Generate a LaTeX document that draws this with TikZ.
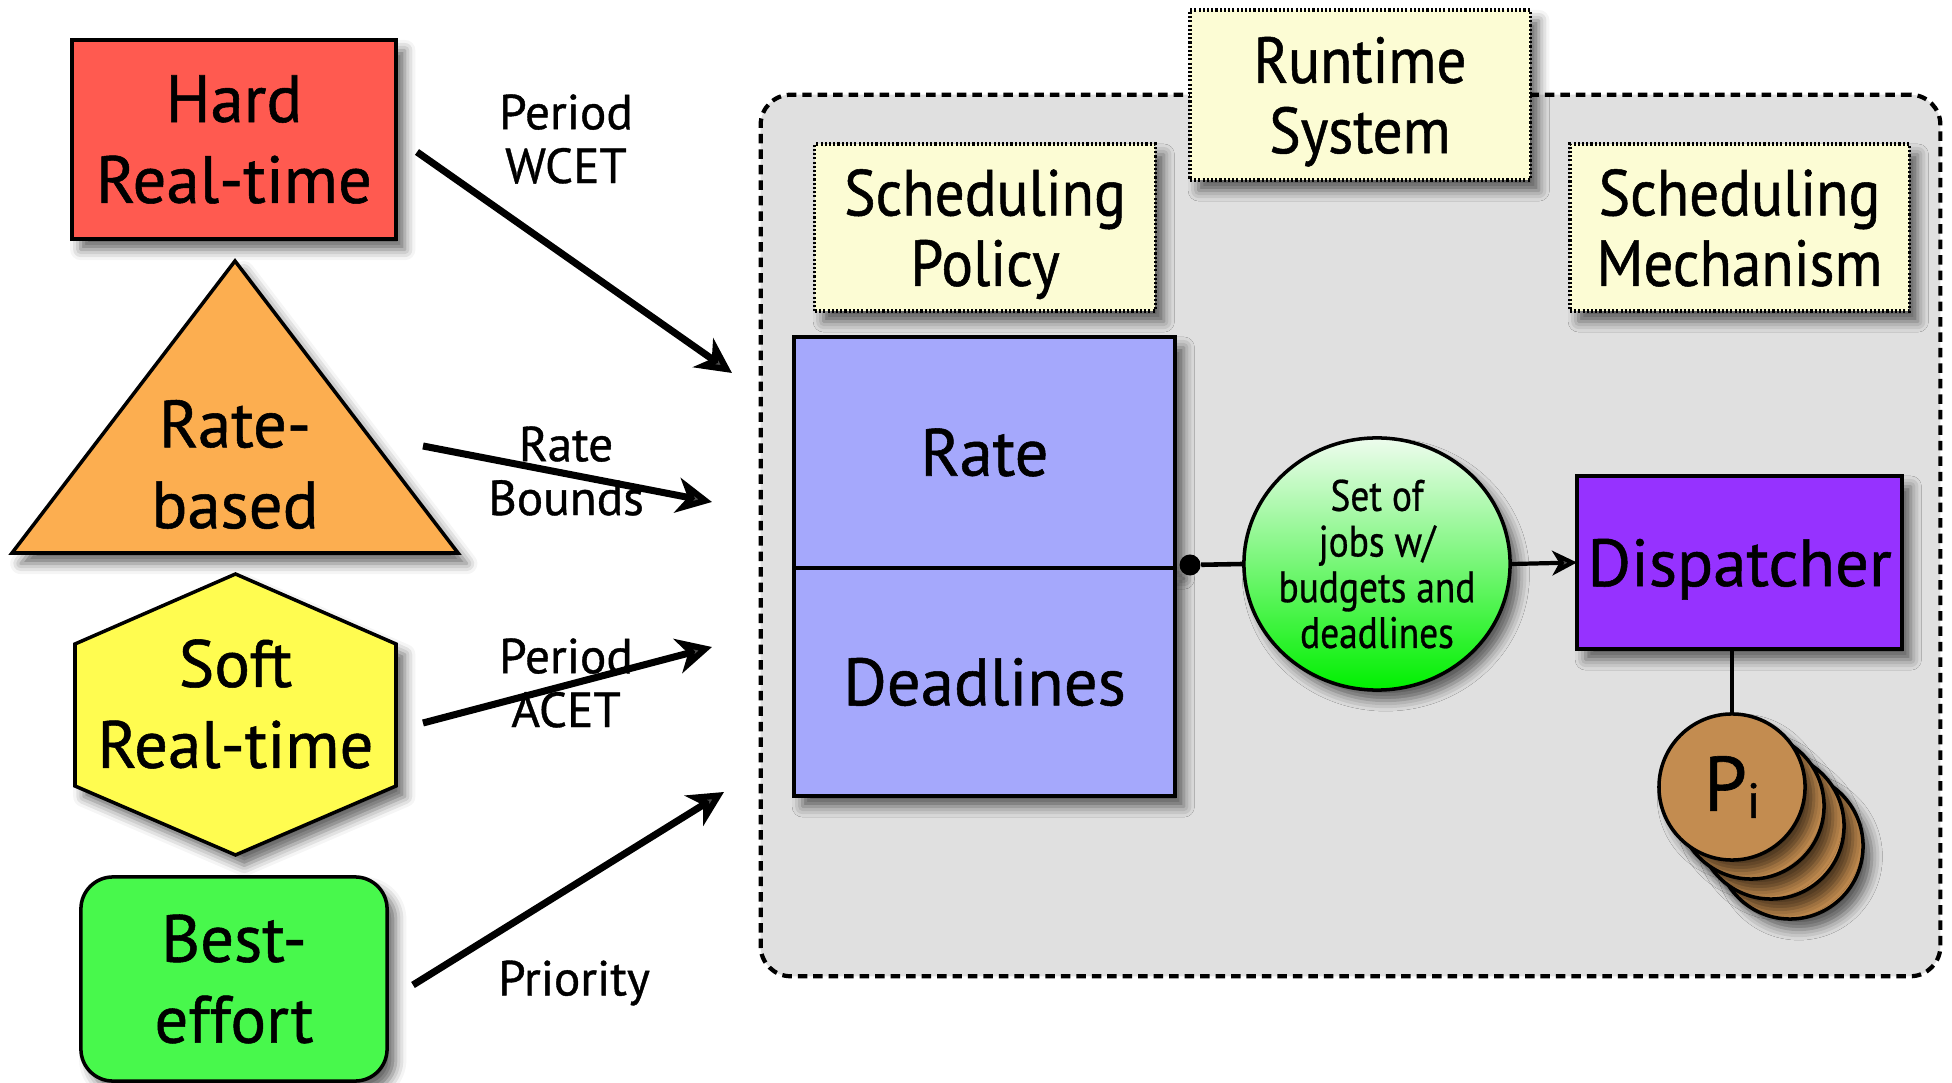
\documentclass[tikz,border=0pt]{standalone}
\usepackage{fontspec}
\setmainfont{PT Sans}[FakeBold=0.8]
\newfontfamily\notefont{PT Sans}[FakeStretch=0.91, FakeBold=0.8]
\newfontfamily\jobfont{PT Sans}[FakeStretch=0.85, FakeBold=0.6]
\usetikzlibrary{arrows.meta,shapes.geometric,shadows.blur}

\definecolor{hardred}{RGB}{255,90,80}
\definecolor{rateorange}{RGB}{252,174,80}
\definecolor{softyellow}{RGB}{255,252,80}
\definecolor{bestgreen}{RGB}{72,248,76}
\definecolor{polblue}{RGB}{165,168,252}
\definecolor{disppurple}{RGB}{150,50,255}
\definecolor{notecream}{RGB}{252,252,212}
\definecolor{rtgray}{RGB}{224,224,224}
\definecolor{procbrown}{RGB}{195,140,80}
\definecolor{jobgreen}{RGB}{0,240,0}
\definecolor{jobpale}{RGB}{238,252,238}

\tikzset{
  castshadow/.style={blur shadow={shadow xshift=2.5pt, shadow yshift=-3pt,
      shadow blur radius=3pt, shadow opacity=60}},
  bigtxt/.style={font=\fontsize{19}{23}\selectfont, align=center},
  notetxt/.style={font=\notefont\fontsize{18.5}{20}\selectfont, align=center},
  smalltxt/.style={font=\fontsize{14}{15.3}\selectfont, align=center},
  shapebox/.style={draw, line width=1pt, inner sep=0pt, outer sep=0pt, castshadow},
  notebox/.style={draw, line width=0.9pt, dash pattern=on 0.6pt off 0.6pt,
      fill=notecream, inner sep=0pt, castshadow, notetxt, text depth=0pt},
  bigarrow/.style={line width=2pt, -{Stealth[length=10pt, width=10pt, inset=3pt]}},
  proc/.style={circle, draw, line width=1pt, fill=procbrown, minimum size=1.46cm,
      inner sep=0pt, castshadow}
}

\begin{document}
\begin{tikzpicture}[x=0.01cm, y=-0.01cm]
  \useasboundingbox (0,0) rectangle (1952,1083);

  % runtime system container
  \node[draw, line width=1.2pt, dash pattern=on 2.7pt off 1.7pt, fill=rtgray,
        rounded corners=0.3cm, minimum width=11.79cm, minimum height=8.81cm,
        inner sep=0pt] (rt) at (1350.5,535.5) {};

  % task classes on the left
  \node[shapebox, fill=hardred, minimum width=3.24cm, minimum height=1.99cm, bigtxt]
        (hard) at (234,139.5) {Hard\\Real-time};
  \path[draw, line width=1pt, fill=rateorange, castshadow, line join=miter]
        (235,261) -- (458,553) -- (12,553) -- cycle;
  \node[bigtxt] (ratebased) at (235,464.5) {Rate-\\based};
  \path[draw, line width=1pt, fill=softyellow, castshadow]
        (235.5,574) -- (396,644) -- (396,786) -- (235.5,855) -- (75,786) -- (75,644) -- cycle;
  \node[bigtxt] (soft) at (235.5,704) {Soft\\Real-time};
  \node[shapebox, fill=bestgreen, rounded corners=0.32cm, minimum width=3.06cm,
        minimum height=2.04cm, bigtxt] (best) at (234,979) {Best-\\effort};

  % parameters passed to the runtime system
  \node[smalltxt] (lblhard) at (566,139) {Period\\WCET};
  \node[smalltxt] (lblrate) at (566,471) {Rate\\Bounds};
  \node[smalltxt] (lblsoft) at (566,683) {Period\\ACET};
  \node[smalltxt] (lblbest) at (574,983) {Priority};

  \coordinate (a1s) at (417,152);  \coordinate (a1e) at (732,373);
  \coordinate (a2s) at (423,446);  \coordinate (a2e) at (712,502);
  \coordinate (a3s) at (423,723);  \coordinate (a3e) at (712,647);
  \coordinate (a4s) at (413,985);  \coordinate (a4e) at (724,792);
  \draw[bigarrow] (a1s) -- (a1e);
  \draw[bigarrow] (a2s) -- (a2e);
  \draw[bigarrow] (a3s) -- (a3e);
  \draw[bigarrow] (a4s) -- (a4e);

  % headings
  \node[notebox, minimum width=3.40cm, minimum height=1.70cm] (runtime) at (1360,95) {Runtime\\System};
  \node[notebox, minimum width=3.40cm, minimum height=1.67cm] (policy) at (985,227.5) {Scheduling\\Policy};
  \node[notebox, minimum width=3.39cm, minimum height=1.67cm] (mech) at (1739.5,227.5) {Scheduling\\Mechanism};

  % scheduling policy
  \node[shapebox, fill=polblue, minimum width=3.81cm, minimum height=2.31cm, bigtxt]
        (rate) at (984.5,452.5) {Rate};
  \node[shapebox, fill=polblue, minimum width=3.81cm, minimum height=2.28cm, bigtxt]
        (deadl) at (984.5,682) {Deadlines};

  % job set and dispatcher
  \node[ellipse, draw, line width=1pt, top color=jobpale, bottom color=jobgreen, castshadow,
        minimum width=2.66cm, minimum height=2.52cm, inner sep=0pt] (jobs) at (1377,564) {};
  \node[align=center, font=\jobfont\fontsize{12.5}{13}\selectfont] (jobstxt) at (jobs.center)
        {Set of\\jobs w/\\budgets and\\deadlines};
  \node[circle, fill=black, inner sep=0pt, minimum size=0.21cm] (dot) at (1190,565) {};
  \draw[line width=1.3pt] (dot) -- (jobs.west);
  \node[shapebox, fill=disppurple, minimum width=3.25cm, minimum height=1.73cm, bigtxt,
        text depth=0pt] (disp) at (1739.5,562.5) {Dispatcher};
  \draw[line width=1.2pt, -{Stealth[length=7pt, width=7pt, inset=2pt]}] (jobs.east) -- (disp.west);

  % processors
  \node[proc] (p3) at (1790,846) {};
  \node[proc] (p2) at (1771,826) {};
  \node[proc] (p1) at (1751,806) {};
  \node[proc, font=\fontsize{22}{22}\selectfont] (p0) at (1732,787)
        {P{\fontsize{14}{14}\selectfont\raisebox{-2pt}{i}}};
  \draw[line width=1.2pt] (p0.north |- disp.south) -- (p0.north);
\end{tikzpicture}
\end{document}
